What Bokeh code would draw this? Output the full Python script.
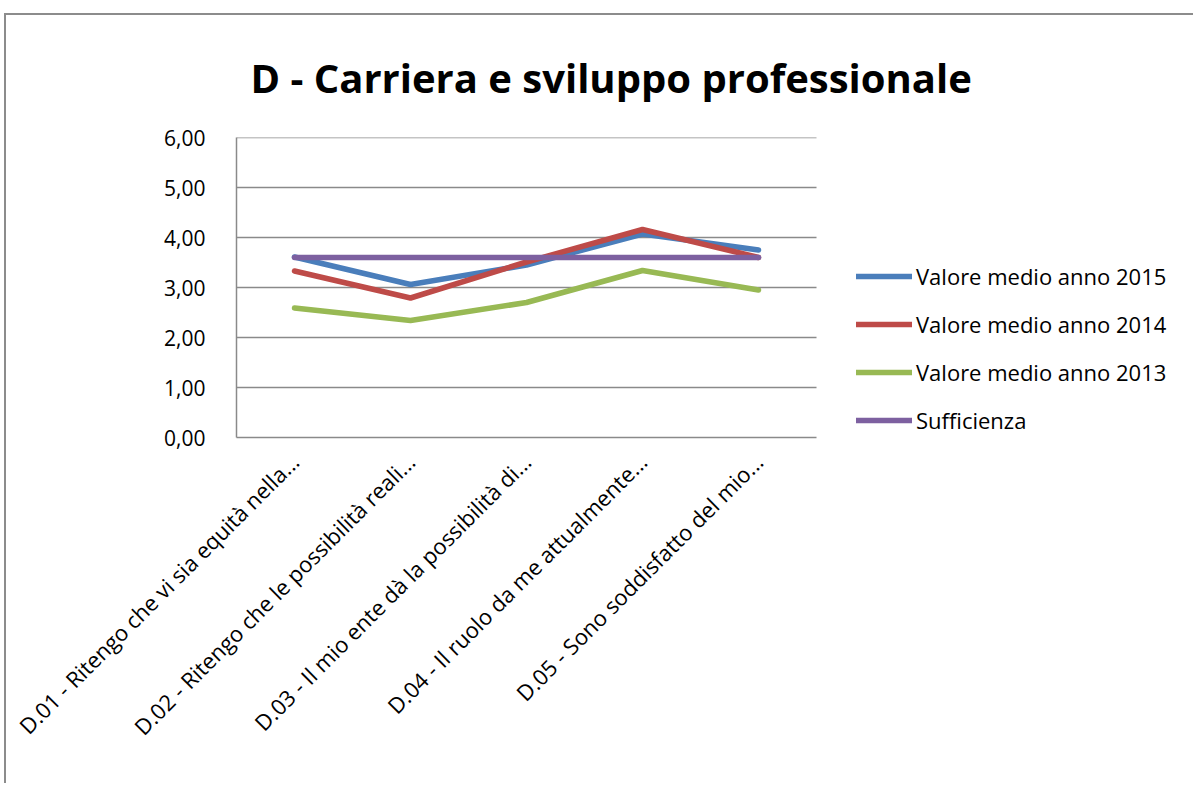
import math
from bokeh.plotting import figure
from bokeh.models import (Range1d, Legend, LegendItem, Title,
                          CustomJSTickFormatter, FixedTicker)
from bokeh.embed import file_html
from bokeh.resources import INLINE

# ---- data ----
categories = [
    "D.01 - Ritengo che vi sia equità nella...",
    "D.02 - Ritengo che le possibilità reali...",
    "D.03 - Il mio ente dà la possibilità di...",
    "D.04 - Il ruolo da me attualmente...",
    "D.05 - Sono soddisfatto del mio...",
]
series_names = ["Valore medio anno 2015", "Valore medio anno 2014",
                "Valore medio anno 2013", "Sufficienza"]
v2015 = [3.61, 3.06, 3.45, 4.07, 3.75]
v2014 = [3.33, 2.79, 3.51, 4.16, 3.60]
v2013 = [2.59, 2.34, 2.70, 3.34, 2.95]
sufficienza = [3.60, 3.60, 3.60, 3.60, 3.60]
y_ticks = [0, 1, 2, 3, 4, 5, 6]
chart_title = "D - Carriera e sviluppo professionale"

colors = ["#4A7EBB", "#BE4B48", "#98B954", "#7D60A0"]
FONT = "Open Sans"
GRID = "#8A8A8A"

n = len(categories)
xs = [i + 0.5 for i in range(n)]

# layout: plot area spans 580px for the categories; frame continues to the right edge
W, H = 1189, 770
LEFT, RIGHT, TOP, BOTTOM = 230, 0, 112, 348
frame_w = W - LEFT - RIGHT
x_end = n * frame_w / 580.0

p = figure(width=W, height=H,
           x_range=Range1d(0, x_end), y_range=Range1d(0, 6),
           output_backend="svg", toolbar_location=None,
           min_border_left=LEFT, min_border_right=RIGHT,
           min_border_top=TOP, min_border_bottom=BOTTOM)
p.outline_line_color = None
p.background_fill_color = "white"
p.border_fill_color = "white"
p.styles = {"border-top": "2px solid #8C8C8C", "border-left": "2px solid #8C8C8C",
            "margin-top": "13px", "margin-left": "4px"}

# y axis
p.yaxis.ticker = FixedTicker(ticks=y_ticks)
p.yaxis.formatter = CustomJSTickFormatter(code="return tick.toFixed(2).replace('.', ',');")
p.yaxis.major_label_text_font = FONT
p.yaxis.major_label_text_font_size = "21px"
p.yaxis.major_label_text_color = "black"
p.yaxis.major_label_standoff = 25
p.yaxis.axis_line_color = GRID
p.yaxis.axis_line_width = 1.5
p.yaxis.major_tick_line_color = None
p.yaxis.minor_tick_line_color = None

# x axis (categories)
p.xaxis.ticker = FixedTicker(ticks=xs)
p.xaxis.major_label_overrides = {x: c for x, c in zip(xs, categories)}
p.xaxis.bounds = (0, n)
p.xaxis.major_label_orientation = math.pi / 4
p.xaxis.major_label_text_font = FONT
p.xaxis.major_label_text_font_size = "22px"
p.xaxis.major_label_text_color = "black"
p.xaxis.major_label_standoff = 14
p.xaxis.axis_line_color = GRID
p.xaxis.axis_line_width = 1.5
p.xaxis.major_tick_line_color = None
p.xaxis.minor_tick_line_color = None

# grid lines limited to the category area
p.xgrid.grid_line_color = None
p.ygrid.grid_line_color = None
p.segment(x0=[0] * (len(y_ticks) - 1), x1=[n] * (len(y_ticks) - 1),
          y0=y_ticks[1:], y1=y_ticks[1:], line_color=GRID, line_width=1.5)

# lines
renderers = []
for vals, c in zip([v2015, v2014, v2013, sufficienza], colors):
    r = p.line(x=xs, y=vals, line_color=c, line_width=5.5,
               line_join="round", line_cap="round")
    renderers.append(r)

legend = Legend(items=[LegendItem(label=nm, renderers=[r]) for nm, r in zip(series_names, renderers)],
                location=(620, 2))
legend.background_fill_alpha = 0
legend.border_line_color = None
legend.padding = 0
legend.margin = 0
legend.spacing = 18
legend.glyph_width = 56
legend.glyph_height = 22
legend.label_height = 22
legend.label_standoff = 4
legend.label_text_font = FONT
legend.label_text_font_size = "22px"
legend.label_text_color = "black"
p.add_layout(legend)

# title
t = Title(text=chart_title, align="left", offset=14, standoff=65,
          text_font=FONT, text_font_style="bold", text_font_size="40px",
          text_color="black")
p.add_layout(t, "above")

open("out.html", "w").write(file_html(p, INLINE))
